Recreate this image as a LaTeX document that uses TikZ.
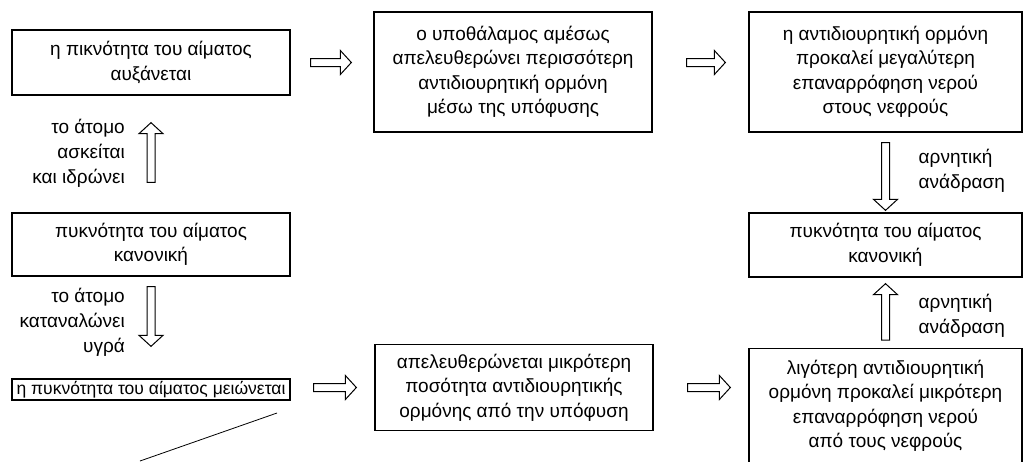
\documentclass[tikz,border=0pt]{standalone}
\usepackage{fontspec}
\setmainfont{Liberation Sans}
\usetikzlibrary{calc,positioning}
\tikzset{
  box/.style={draw, line width=1.3pt, align=center, inner sep=0pt, font=\fontsize{19}{24.5}\selectfont},
  lbl/.style={inner sep=0pt, font=\fontsize{19}{25}\selectfont},
  fat/.style 2 args={draw, line width=1pt, to path={
    let \p1=(\tikztostart), \p2=(\tikztotarget),
        \n1={atan2(\y2-\y1,\x2-\x1)}, \n2={veclen(\x2-\x1,\y2-\y1)-#1pt-#2pt}
    in ($(\p1)+(\n1:#1pt)+(\n1+90:4pt)$) -- ++(\n1:\n2-11pt) -- ++(\n1+90:8pt)
       -- ($(\p2)+(\n1+180:#2pt)$)
       -- ($(\p2)+(\n1+180:#2pt)+(\n1+180:11pt)+(\n1-90:12pt)$) -- ++(\n1+90:8pt)
       -- ++(\n1+180:\n2-11pt) -- cycle}},
}

\begin{document}
\begin{tikzpicture}[x=1pt, y=-1pt]
  \useasboundingbox (0,0) rectangle (1024,461);

  % left column
  \node[box, minimum width=278pt, minimum height=65pt] (A) at (151,62.5) {η πικνότητα του αίματος\\αυξάνεται};
  \node[box, minimum width=278pt, minimum height=63pt] (H) at (151,244.5) {πυκνότητα του αίματος\\κανονική};
  \node[box, minimum width=278pt, minimum height=21pt, font=\fontsize{17.5}{24.5}\selectfont] (G) at (151,389.5) {η πυκνότητα του αίματος μειώνεται};

  % middle column
  \node[box, minimum width=278pt, minimum height=120pt] (B) at (513,72) {ο υποθάλαμος αμέσως\\απελευθερώνει περισσότερη\\αντιδιουρητική ορμόνη\\μέσω της υπόφυσης};
  \node[box, minimum width=278pt, minimum height=86pt] (F) at (514,387.5) {απελευθερώνεται μικρότερη\\ποσότητα αντιδιουρητικής\\ορμόνης από την υπόφυση};

  % right column
  \node[box, minimum width=273pt, minimum height=120pt] (C) at (885.5,72) {η αντιδιουρητική ορμόνη\\προκαλεί μεγαλύτερη\\επαναρρόφηση νερού\\στους νεφρούς};
  \node[box, minimum width=273pt, minimum height=64pt] (D) at (885.5,245) {πυκνότητα του αίματος\\κανονική};
  \node[box, minimum width=273pt, minimum height=114pt, anchor=north] (E) at (885.5,348) {λιγότερη αντιδιουρητική\\ορμόνη προκαλεί μικρότερη\\επαναρρόφηση νερού\\από τους νεφρούς};

  % arrow labels
  \node[lbl, align=right, anchor=east] (upl) at ($(A.south)!0.5!(H.north)+(-26,-1)$) {το άτομο\\ασκείται\\και ιδρώνει};
  \node[lbl, align=right, anchor=east] (downl) at ($(H.south)!0.5!(G.north)+(-26,-5)$) {το άτομο\\καταναλώνει\\υγρά};
  \node[lbl, align=left, anchor=west] (fb1) at ($(C.south)!0.5!(D.north)+(33,-2)$) {αρνητική\\ανάδραση};
  \node[lbl, align=left, anchor=west] (fb2) at ($(D.south)!0.5!(E.north)+(33,3)$) {αρνητική\\ανάδραση};

  % flow arrows
  \draw[fat={20}{22}] (A.east) to (A.east -| B.west);
  \draw[fat={34}{23}] (B.east |- A.east) to (C.west |- A.east);
  \draw[fat={10}{2}] (C.south) to (D.north);
  \draw[fat={8}{6}] (E.north) to (D.south);
  \draw[fat={30}{27}] (H.north) to (A.south);
  \draw[fat={10}{32}] (H.south) to (G.north);
  \draw[fat={23}{18}] (G.east |- F.west) to (F.west);
  \draw[fat={34}{18}] (F.east) to (F.east -| E.west);

  % stamp edge
  \draw[line width=0.8pt] (140,461) -- (277,413);
\end{tikzpicture}
\end{document}
